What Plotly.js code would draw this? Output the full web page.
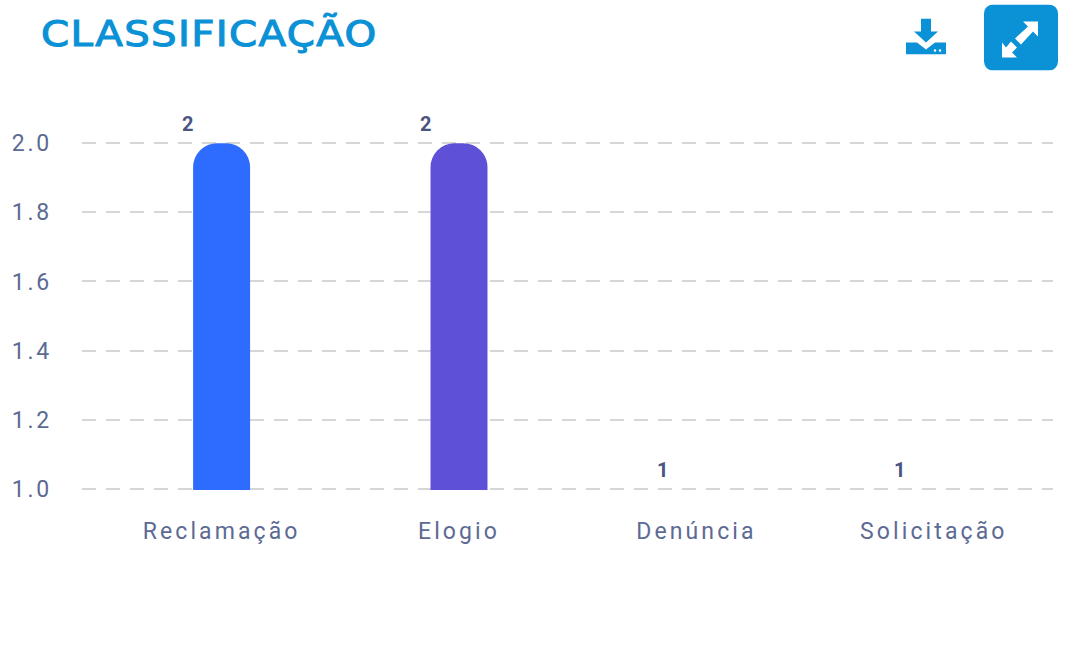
<!DOCTYPE html>
<html><head><meta charset="utf-8">
<script src="https://cdn.plot.ly/plotly-3.0.1.min.js"></script>
<style>
html,body{margin:0;padding:0;background:#fff;overflow:hidden}
#c{width:1073px;height:649px}
.xtick text{letter-spacing:3.1px}
.ytick text{letter-spacing:2.8px}
.infolayer .gtitle{letter-spacing:1.2px;stroke:#0b91d5;stroke-width:1.1px;transform-origin:41px 0;transform:scaleX(1.12)}
</style></head><body><div id="c"></div>
<script>
const categories=["Reclamação","Elogio","Denúncia","Solicitação"];
const values=[2,2,1,1];
const axisMin=1;
const barColors=["#2d6cff","#5f50d8","#2d6cff","#5f50d8"];
const yTicks=[1,1.2,1.4,1.6,1.8,2];
const W=1073,H=649;
const L=82,R=20,T=142.3,B=159.3;
const downloadIcon='<svg xmlns="http://www.w3.org/2000/svg" viewBox="0 0 40 36"><path fill="#0b91d5" d="M15 0h10v13h7L20 24 8 13h7z"/><path fill="#0b91d5" d="M0 24h11l9 7 9-7h11v12H0z"/><circle cx="29" cy="32" r="1.200" fill="#fff"/><circle cx="34" cy="32" r="1.200" fill="#fff"/></svg>';
const expandIcon='<svg xmlns="http://www.w3.org/2000/svg" viewBox="0 0 74 66"><rect width="74" height="66" rx="9" fill="#0b91d5"/><path fill="#fff" d="M54 17H39l5 5-13 12 6 6 12-13 5 5z"/><path fill="#fff" d="M18 53h15l-5-5 5-5-6-6-5 6-4-5z"/></svg>';
const uri=s=>'data:image/svg+xml;charset=utf-8,'+encodeURIComponent(s);
const annos=categories.map((c,i)=>({x:i,y:values[i],xref:'x',yref:'y',text:String(values[i]),showarrow:false,xshift:-34,yshift:19,
  font:{family:'Roboto, sans-serif',size:20,color:'#4a5580',weight:700}}));
const pw=W-L-R,ph=H-T-B;
Plotly.newPlot('c',[{type:'bar',x:categories.map((c,i)=>i),y:values,width:0.24,
  marker:{color:barColors,opacity:values.map(v=>v>axisMin?1:0),cornerradius:24},hoverinfo:'x+y',cliponaxis:true}],{
  width:W,height:H,showlegend:false,paper_bgcolor:'#fff',plot_bgcolor:'#fff',
  margin:{l:L,r:R,t:T,b:B,pad:0},
  title:{text:'CLASSIFICAÇÃO',x:41/W,xanchor:'left',y:1-46/H,yanchor:'bottom',
    font:{family:'DejaVu Sans, sans-serif',size:36,color:'#0b91d5'},pad:{t:0,b:0,l:0,r:0}},
  xaxis:{range:[-0.588,3.502],tickmode:'array',tickvals:categories.map((c,i)=>i),ticktext:categories,
    showgrid:false,zeroline:false,showline:false,ticks:'',ticklabelstandoff:25,
    tickfont:{family:'Roboto, sans-serif',size:23,color:'#5c6a94'}},
  yaxis:{range:[axisMin-1.2/345,2+1.2/345],tickmode:'array',tickvals:yTicks,ticktext:yTicks.map(v=>v.toFixed(1)),
    showgrid:true,gridcolor:'#d6d6d6',gridwidth:2,griddash:'14px,10px',zeroline:false,showline:false,ticks:'',ticklabelstandoff:29,
    tickfont:{family:'Roboto, sans-serif',size:23,color:'#5c6a94'}},
  annotations:annos,
  images:[
   {source:uri(downloadIcon),xref:'paper',yref:'paper',x:(906-L)/pw,y:1+(T-19)/ph,sizex:40/pw,sizey:36/ph,xanchor:'left',yanchor:'top',sizing:'stretch'},
   {source:uri(expandIcon),xref:'paper',yref:'paper',x:(984-L)/pw,y:1+(T-5)/ph,sizex:74/pw,sizey:66/ph,xanchor:'left',yanchor:'top',sizing:'stretch'}
  ]
},{displayModeBar:false,responsive:false});
</script></body></html>
